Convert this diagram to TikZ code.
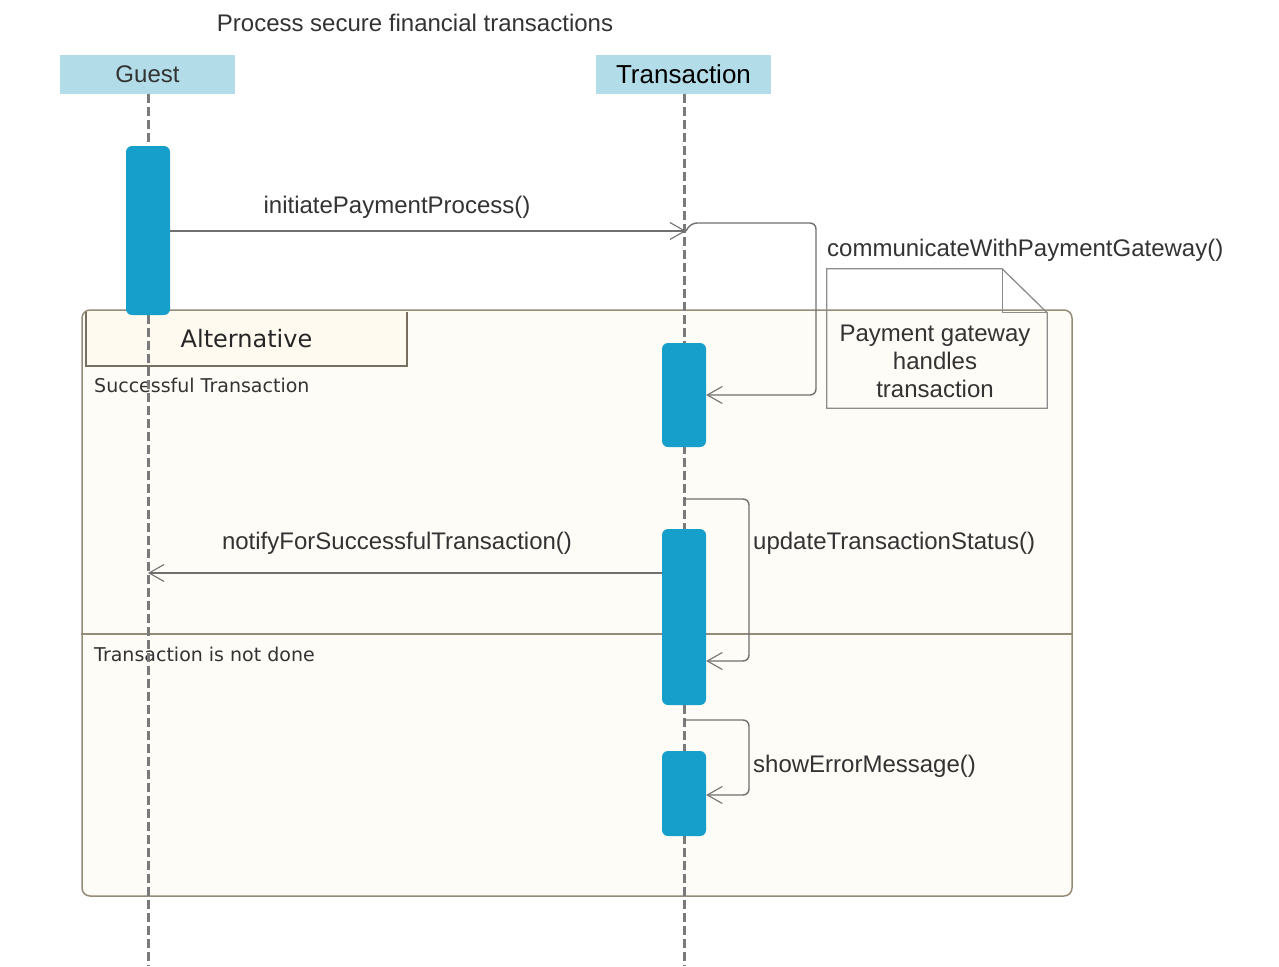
\documentclass[tikz,border=0pt]{standalone}
\usepackage{fontspec}
\setmainfont{Liberation Sans}
\newfontfamily\framefont{DejaVu Sans}
\usetikzlibrary{arrows.meta,calc}
\definecolor{headfill}{HTML}{B3DCE9}
\definecolor{barfill}{HTML}{169FCA}
\definecolor{msgline}{HTML}{707070}
\definecolor{lifeline}{HTML}{7A7A7A}
\definecolor{framefill}{HTML}{FEFCF6}
\definecolor{frameline}{HTML}{958B78}
\definecolor{tabfill}{HTML}{FFFAF0}
\definecolor{txt}{HTML}{333333}
\definecolor{noteline}{HTML}{8C8C8C}

\begin{document}
\begin{tikzpicture}[x=1pt,y=-1pt,
  head/.style={fill=headfill, minimum width=175pt, minimum height=39pt, inner sep=0pt},
  actbar/.style={fill=barfill, draw=none, rounded corners=6pt, minimum width=44pt, inner sep=0pt},
  lifedash/.style={draw=lifeline, line width=3pt, dash pattern=on 9pt off 4pt},
  msg/.style={draw=msgline, line width=1.4pt, -{Straight Barb[length=15pt,width=17pt,line width=1.1pt]}},
  lbl/.style={text=txt, font=\fontsize{24}{28}\selectfont, inner sep=0pt},
  altbox/.style={draw=frameline, fill=framefill, line width=1.5pt, rounded corners=8pt, minimum width=990pt, minimum height=586pt, inner sep=0pt},
  tabbox/.style={fill=tabfill, minimum width=321pt, minimum height=54pt, inner sep=0pt, font=\framefont\fontsize{24}{28}\selectfont, text=black!85},
  guard/.style={text=txt, font=\framefont\fontsize{19}{22}\selectfont, inner sep=0pt, anchor=west},
  notebox/.style={minimum width=220pt, minimum height=139pt, inner sep=0pt},
  notetext/.style={align=center, text=txt, inner sep=0pt, font=\fontsize{24}{28}\selectfont}
]
\useasboundingbox (0,0) rectangle (1279,966);

% title
\node[lbl] (title) at (415,23) {Process secure financial transactions};

% combined fragment (alt)
\node[altbox] (alt) at (577,603) {};
\draw[draw=frameline, line width=1.5pt] (alt.west |- 0,634) coordinate (divl) -- (alt.east |- 0,634) coordinate (divr);
\node[tabbox] (tab) at (246.5,339) {Alternative};
\draw[draw=frameline!80!black, line width=1.5pt] (tab.north west) |- (tab.south east) -- (tab.north east);
\node[guard] (g1) at (94,385) {Successful Transaction};
\node[guard] (g2) at (94,654) {Transaction is not done};

% participants
\node[head, text=txt, font=\fontsize{24}{28}\selectfont] (guest) at (147.5,74.5) {Guest};
\node[head, text=black, font=\fontsize{26}{30}\selectfont] (trans) at (683.5,74.5) {Transaction};

% lifelines
\coordinate (gend) at (148,966);
\coordinate (tend) at (684,966);
\draw[lifedash] (guest.south -| gend) -- (gend);
\draw[lifedash] (trans.south -| tend) -- (tend);

% activation bars
\node[actbar, minimum height=169pt] (gbar) at (148,230.5) {};
\node[actbar, minimum height=104pt] (tbar1) at (684,395) {};
\node[actbar, minimum height=176pt] (tbar2) at (684,617) {};
\node[actbar, minimum height=85pt] (tbar3) at (684,793.5) {};

% messages
\coordinate (m1end) at (686,231);
\draw[msg] (gbar.east |- m1end) -- (m1end);
\node[lbl] (m1) at (397,207) {initiatePaymentProcess()};

\draw[msg, rounded corners=6pt] (m1end) -- (691,223) -- (816,223) -- (816,395) -- (tbar1.east |- 0,395);
\node[lbl, anchor=west] (m2) at (827,250) {communicateWithPaymentGateway()};

\coordinate (m3start) at (684,499);
\draw[msg, rounded corners=6pt] (m3start) -- (749,499) -- (749,661) -- (tbar2.east |- 0,661);
\node[lbl, anchor=west] (m3) at (753,543) {updateTransactionStatus()};

\coordinate (m4end) at (148,573);
\draw[msg] (tbar2.west |- m4end) -- (m4end);
\node[lbl] (m4) at (397,543) {notifyForSuccessfulTransaction()};

\coordinate (m5start) at (684,720);
\draw[msg, rounded corners=6pt] (m5start) -- (749,720) -- (749,795) -- (tbar3.east |- 0,795);
\node[lbl, anchor=west] (m5) at (753,766) {showErrorMessage()};

% note
\node[notebox] (note) at (937,338.5) {};
\node[notetext] (notetxt) at (935,361) {Payment gateway\\handles\\transaction};
\draw[draw=noteline, line width=1.3pt]
  (note.north west) -- ($(note.north east)+(-45,0)$) coordinate (fold)
  -- ($(note.north east)+(0,44)$) coordinate (foldr)
  -- (note.south east) -- (note.south west) -- cycle;
\draw[draw=noteline, line width=1.3pt] (fold) |- (foldr);
\end{tikzpicture}
\end{document}
